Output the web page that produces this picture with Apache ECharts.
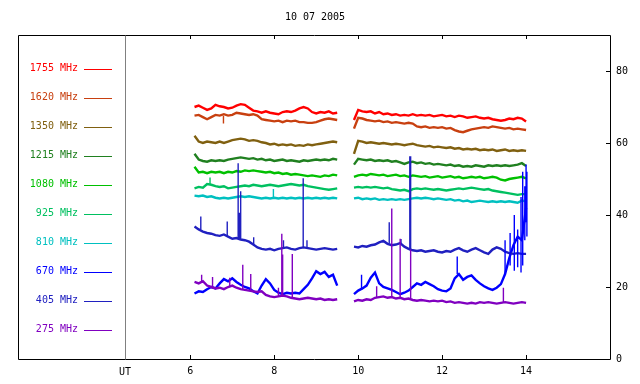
<!DOCTYPE html>
<html><head><meta charset="utf-8">
<script src="https://cdn.jsdelivr.net/npm/echarts@6/dist/echarts.min.js"></script>
<style>html,body{margin:0;padding:0;background:#fff}#c{width:640px;height:384px}</style>
</head><body><div id="c"></div>
<script>
const titleText = '10 07 2005';
const freqLabels = ['1755 MHz','1620 MHz','1350 MHz','1215 MHz','1080 MHz','925 MHz','810 MHz','670 MHz','405 MHz','275 MHz'];
const colors = ['#ff0000','#c84010','#806010','#208020','#00c000','#00c060','#00c0c0','#0000ff','#2020c0','#8000c0'];
const xTicks = [6,8,10,12,14];
const yTicks = [0,20,40,60,80];

const tA = [6.1,6.2,6.3,6.4,6.5,6.6,6.7,6.8,6.9,7.0,
 7.1,7.2,7.3,7.4,7.5,7.6,7.7,7.8,7.9,8.0,
 8.1,8.2,8.3,8.4,8.5,8.6,8.7,8.8,8.9,9.0,
 9.1,9.2,9.3,9.4,9.5];
const tB = [9.9,10.0,10.1,10.2,10.3,10.4,10.5,10.6,10.7,10.8,
 10.9,11.0,11.1,11.2,11.3,11.4,11.5,11.6,11.7,11.8,
 11.9,12.0,12.1,12.2,12.3,12.4,12.5,12.6,12.7,12.8,
 12.9,13.0,13.1,13.2,13.3,13.4,13.5,13.6,13.7,13.8,
 13.9,14.0];

const r1755A = [70.0,70.4,69.8,69.2,69.6,70.6,70.2,70.0,69.6,69.8,
 70.4,70.8,70.6,69.8,69.0,68.8,68.4,68.8,68.4,68.2,
 68.0,68.6,68.8,68.6,69.0,69.6,70.0,69.6,68.6,68.2,
 68.6,68.4,68.8,68.2,68.4];
const r1755B = [66.4,69.2,68.8,68.6,68.8,68.2,68.6,68.0,68.2,67.8,
 68.0,67.6,67.8,67.6,68.0,67.6,67.8,67.6,67.8,67.4,
 67.6,67.8,67.4,67.6,67.2,67.6,67.4,67.0,67.2,67.4,
 67.0,66.8,67.0,66.6,66.4,66.2,66.4,66.8,66.6,67.0,
 66.8,66.0];
const r1620A = [67.6,67.8,67.2,66.6,67.2,67.8,67.6,68.0,67.6,67.8,
 68.4,68.2,68.0,67.8,68.0,67.6,66.6,66.4,66.2,66.0,
 66.2,65.8,66.2,66.0,66.2,65.8,65.8,65.6,65.6,65.8,
 66.2,66.6,66.8,66.6,66.4];
const r1620B = [64.0,67.0,66.8,66.4,66.2,66.0,66.2,65.8,66.0,65.6,
 65.8,65.6,65.4,65.6,65.4,64.6,64.4,64.6,64.2,64.4,
 64.2,64.4,64.0,64.2,63.6,63.2,63.0,63.4,63.8,64.0,
 64.2,64.4,64.2,64.6,64.4,64.2,64.0,64.2,63.8,64.0,
 63.8,63.6];
const r1350A = [62.0,60.4,60.0,60.4,60.2,60.0,60.4,60.0,60.4,60.8,
 61.0,61.2,61.0,60.6,60.8,60.6,60.2,60.0,59.6,59.8,
 59.4,59.6,59.4,59.6,59.2,59.4,59.2,59.6,59.4,59.6,
 59.8,60.0,60.2,60.4,60.2];
const r1350B = [57.0,60.6,60.4,60.0,60.2,60.0,59.8,60.0,59.8,59.6,
 59.8,59.6,59.4,59.6,59.8,59.4,59.2,59.0,59.2,58.8,
 59.0,58.8,58.6,58.8,58.4,58.6,58.2,58.4,58.2,58.4,
 58.0,58.2,58.0,58.2,57.8,58.0,58.2,57.8,58.0,57.8,
 58.0,57.8];
const r1215A = [57.0,55.4,55.0,54.8,55.2,55.0,55.2,55.0,55.4,55.6,
 55.8,56.0,55.8,55.6,55.8,55.4,55.6,55.2,55.4,55.0,
 55.2,55.4,55.0,55.2,55.0,54.8,55.2,55.0,55.2,55.4,
 55.2,55.4,55.2,55.6,55.4];
const r1215B = [54.0,55.6,55.4,55.2,55.4,55.0,55.2,55.0,55.2,54.8,
 55.0,54.6,54.2,54.6,54.8,54.4,54.6,54.2,54.4,54.0,
 54.2,54.0,53.8,54.0,53.6,53.8,53.4,53.6,53.4,53.8,
 53.6,53.4,53.8,53.6,53.8,53.6,53.8,53.6,53.8,54.0,
 54.4,53.6];
const r1080A = [53.4,51.8,52.0,51.6,52.0,51.8,52.0,51.6,52.0,51.8,
 52.2,52.0,52.4,52.2,52.4,52.2,52.0,51.8,52.0,51.6,
 51.8,51.4,51.6,51.2,51.4,51.2,51.0,50.8,51.0,50.8,
 50.6,51.0,50.8,51.2,51.0];
const r1080B = [50.6,51.0,51.2,51.0,51.4,51.2,51.0,51.2,50.8,51.0,
 51.2,50.8,51.0,50.6,51.0,50.8,50.6,50.8,50.4,50.6,
 50.8,50.4,50.6,50.8,50.4,50.6,50.2,50.4,50.6,50.4,
 50.6,50.2,50.4,50.6,50.4,49.8,49.6,50.0,50.2,50.4,
 50.6,50.2];
const r925A = [47.4,47.8,47.6,48.6,48.4,48.0,47.8,48.0,47.4,47.6,
 47.8,48.0,48.2,48.0,48.4,48.2,48.0,48.2,48.4,48.2,
 48.0,48.2,48.4,48.6,48.4,48.2,48.4,48.0,47.8,47.6,
 47.4,47.2,47.0,47.2,47.4];
const r925B = [47.6,47.8,47.6,47.8,47.6,47.8,47.6,47.4,47.6,47.2,
 47.0,46.8,47.0,46.6,47.2,47.4,47.2,47.4,47.2,47.0,
 47.2,47.0,46.8,47.0,47.2,47.4,47.2,47.4,47.6,47.4,
 47.2,47.0,47.2,46.8,46.6,46.4,46.2,46.0,45.8,45.6,
 45.8,45.8];
const r810A = [45.4,45.2,45.4,45.0,45.2,44.8,44.6,44.8,44.6,44.8,
 45.0,45.2,45.0,45.2,45.0,44.8,44.6,44.8,44.6,44.8,
 44.6,44.8,44.6,44.8,44.6,44.8,44.6,44.8,44.6,44.8,
 44.6,44.8,44.6,44.8,44.6];
const r810B = [44.6,44.8,44.4,44.6,44.4,44.6,44.2,44.4,44.2,44.4,
 44.2,44.4,44.2,44.4,44.6,44.8,44.6,44.8,44.6,44.4,
 44.6,44.4,44.2,44.4,44.0,44.2,43.8,44.0,43.6,43.8,
 44.0,43.8,43.6,43.8,43.6,43.8,43.6,43.8,43.6,43.4,
 44.0,43.8];
const r670A = [18.2,18.8,18.6,19.4,20.0,19.6,21.0,22.2,21.6,22.4,
 21.4,20.6,20.0,19.6,18.8,18.2,20.4,22.2,21.0,19.2,
 18.4,18.0,18.4,18.2,18.4,18.2,19.4,20.6,22.4,24.4,
 23.6,24.2,22.8,23.4,20.4];
const r670B = [18.0,19.0,19.6,20.4,22.6,24.0,21.0,20.0,19.6,19.2,
 18.6,18.0,18.4,19.0,20.0,21.0,20.6,21.4,20.8,20.2,
 19.4,19.0,18.8,19.6,22.4,23.6,22.0,22.8,23.2,22.0,
 21.0,20.2,19.6,19.2,19.8,20.8,23.6,28.0,31.6,34.0,
 33.0,42.0];
const r405A = [36.8,36.0,35.4,35.0,34.8,34.4,34.2,34.6,34.0,33.4,
 33.6,33.2,33.0,32.6,31.8,31.0,30.6,30.4,30.6,30.2,
 30.6,30.8,31.0,30.6,30.4,30.8,31.0,30.8,30.6,30.4,
 30.6,30.8,30.6,30.4,30.6];
const r405B = [31.2,31.0,31.4,31.2,31.6,31.8,32.4,32.8,32.0,31.6,
 31.8,32.2,31.2,30.6,30.2,30.0,30.2,29.8,30.0,30.2,
 29.8,29.6,30.0,29.8,30.4,30.8,30.2,29.8,30.4,30.8,
 30.2,29.6,29.2,30.4,31.0,30.6,29.8,29.4,29.2,29.4,
 29.2,29.2];
const r275A = [21.4,21.0,21.6,20.4,20.0,19.6,19.8,19.4,20.0,20.4,
 19.8,19.4,19.2,19.0,18.8,18.6,18.8,17.8,17.4,17.2,
 17.4,17.6,17.4,17.0,16.8,16.6,16.8,17.0,16.8,16.6,
 16.8,16.4,16.6,16.4,16.6];
const r275B = [16.0,16.4,16.2,16.6,16.4,17.0,17.2,17.4,17.0,17.2,
 16.8,17.0,16.6,16.8,16.4,16.2,16.4,16.2,16.0,16.2,
 16.0,16.2,15.8,16.0,15.6,15.8,15.6,15.4,15.6,15.4,
 15.8,15.6,15.8,15.6,15.4,15.6,15.8,15.6,15.4,15.6,
 15.8,15.6];

// spikes: [time, from, to]
const sp1755 = [];
const sp1620 = [[6.79,67.6,65.4]];
const sp1350 = [];
const sp1215 = [];
const sp1080 = [];
const sp925 = [[6.47,48.4,50.4]];
const sp810 = [[7.98,44.8,47.2]];
const sp670 = [[10.08,19.2,23.4],[12.36,23.6,28.5],[13.5,23.6,33.0],[13.62,26,35],[13.72,24.5,40],[13.8,25.5,36],[13.88,24,45],[13.92,26,52],[13.97,33,48],[14.0,38,54],[14.02,34,52]];
const sp405 = [[6.25,36,39.6],[6.88,34.2,38.2],[7.14,33.4,54.4],[7.17,33.2,40.6],[7.2,33.2,46.6],[7.51,31.8,33.8],[8.22,30.8,33.0],[8.69,31,50.2],[8.78,30.8,33.0],[10.74,32.0,38.0],[11.02,32.2,33.3],[11.23,30.2,56.3],[11.25,30.2,56.3]];
const sp275 = [[6.27,21.6,23.4],[6.53,20,22.8],[6.94,20,22.6],[7.25,19.4,26.2],[7.44,19,23.6],[8.1,17.4,19.8],[8.18,17.6,34.8],[8.2,17.6,29.0],[8.43,17,29.2],[10.44,17,20.2],[10.8,17.2,41.8],[11.0,17,33.4],[11.25,16.8,30.4],[13.46,15.6,19.8]];

const valsA = [r1755A,r1620A,r1350A,r1215A,r1080A,r925A,r810A,r670A,r405A,r275A];
const valsB = [r1755B,r1620B,r1350B,r1215B,r1080B,r925B,r810B,r670B,r405B,r275B];
const spikes = [sp1755,sp1620,sp1350,sp1215,sp1080,sp925,sp810,sp670,sp405,sp275];

const FONT = '"DejaVu Sans Mono", monospace';
const chart = echarts.init(document.getElementById('c'), null, {renderer:'canvas'});

const series = [];
freqLabels.forEach((name, i) => {
  const d = tA.map((t, k) => [t, valsA[i][k]]);
  d.push([9.7, '-']);
  tB.forEach((t, k) => d.push([t, valsB[i][k]]));
  series.push({
    type:'line', name, data:d, showSymbol:false, symbol:'none', connectNulls:false,
    lineStyle:{color:colors[i], width:2.4, join:'miter'}, itemStyle:{color:colors[i]}, z: 2 + i*0.01
  });
  if (spikes[i].length) {
    const sd = [];
    spikes[i].forEach(s => { sd.push([s[0], s[1]]); sd.push([s[0], s[2]]); sd.push([s[0], '-']); });
    series.push({
      type:'line', name: name + ' spikes', data:sd, showSymbol:false, symbol:'none', connectNulls:false,
      lineStyle:{color:colors[i], width:1.4}, z: 3
    });
  }
});

const graphics = [
  {type:'rect', shape:{x:18.5, y:35.5, width:592, height:324}, style:{fill:null, stroke:'#000', lineWidth:1}, z:10, silent:true},
  {type:'line', shape:{x1:125.5, y1:35.5, x2:125.5, y2:359.5}, style:{stroke:'#808080', lineWidth:1}, z:10},
  {type:'text', x:315, y:17, style:{text:titleText, font:'10px ' + FONT, fill:'#000', textAlign:'center', textVerticalAlign:'middle'}},
  {type:'text', x:125, y:372, style:{text:'UT', font:'10px ' + FONT, fill:'#000', textAlign:'center', textVerticalAlign:'middle'}}
];
freqLabels.forEach((name, i) => {
  const y = 68.5 + 29 * i;
  graphics.push({type:'text', x:78, y:y, style:{text:name, font:'10px ' + FONT, fill:colors[i], textAlign:'right', textVerticalAlign:'middle'}});
  graphics.push({type:'line', shape:{x1:84, y1:Math.round(y)+0.5, x2:112, y2:Math.round(y)+0.5}, style:{stroke:colors[i], lineWidth:1}});
});

chart.setOption({
  animation:false,
  backgroundColor:'#fff',
  grid:{left:125, right:30, top:35, bottom:25, containLabel:false},
  xAxis:[
    {type:'value', min:4.444, max:16, position:'bottom',
     axisLine:{show:false}, splitLine:{show:false},
     axisTick:{show:true, inside:true, length:4, customValues:xTicks, lineStyle:{color:'#000'}},
     axisLabel:{show:true, customValues:xTicks, margin:7, color:'#000', fontFamily:FONT, fontSize:10}},
    {type:'value', min:4.444, max:16, position:'top',
     axisLine:{show:false}, splitLine:{show:false},
     axisTick:{show:true, inside:true, length:4, customValues:xTicks, lineStyle:{color:'#000'}},
     axisLabel:{show:false}}
  ],
  yAxis:{type:'value', min:0, max:90, position:'right',
    axisLine:{show:false}, splitLine:{show:false},
    axisTick:{show:true, inside:true, length:4, customValues:yTicks, lineStyle:{color:'#000'}},
    axisLabel:{show:true, customValues:yTicks, margin:6, color:'#000', fontFamily:FONT, fontSize:10}},
  graphic: graphics,
  series
});
</script></body></html>
